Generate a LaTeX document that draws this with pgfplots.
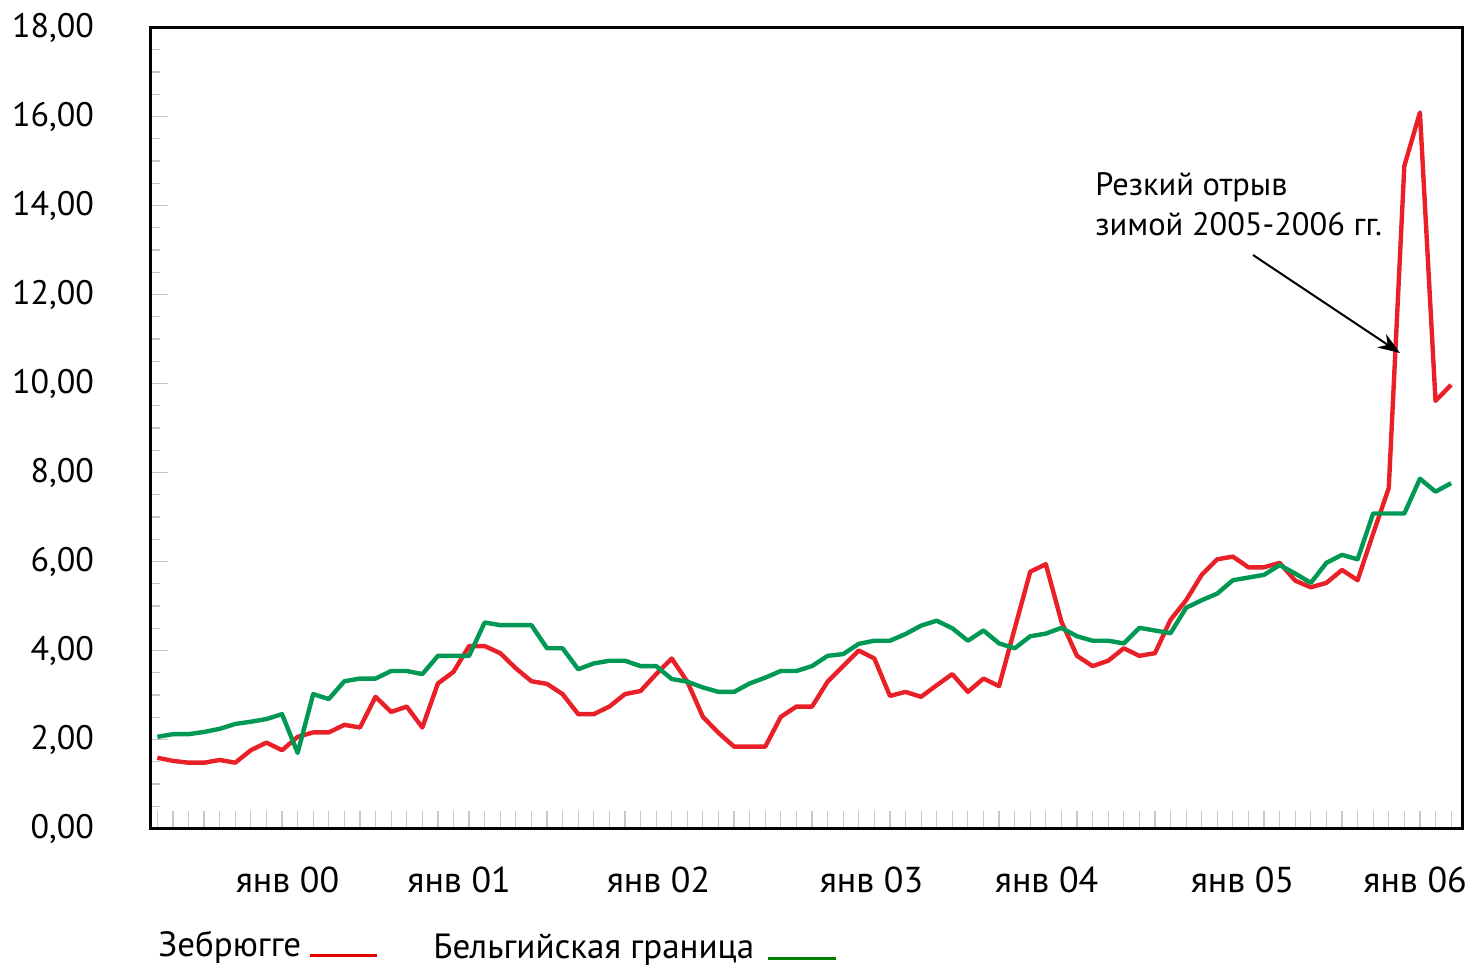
\documentclass[border=0pt]{standalone}
\usepackage{fontspec}
\setmainfont{PT Sans}
\usepackage{pgfplots}
\usepackage{pgfplotstable}
\pgfplotsset{compat=1.18}
\usetikzlibrary{arrows.meta}
\definecolor{pred}{RGB}{234,32,40}
\definecolor{pgreen}{RGB}{0,152,82}
\definecolor{legred}{RGB}{230,0,0}
\definecolor{leggreen}{RGB}{0,128,0}

\pgfplotstableread{
k v
0 1.59
1 1.52
2 1.48
3 1.48
4 1.54
5 1.48
6 1.76
7 1.93
8 1.76
9 2.06
10 2.16
11 2.16
12 2.33
13 2.27
14 2.96
15 2.62
16 2.74
17 2.27
18 3.26
19 3.52
20 4.10
21 4.10
22 3.94
23 3.60
24 3.31
25 3.25
26 3.02
27 2.57
28 2.57
29 2.74
30 3.02
31 3.09
32 3.47
33 3.82
34 3.30
35 2.51
36 2.15
37 1.84
38 1.84
39 1.84
40 2.51
41 2.74
42 2.74
43 3.30
44 3.65
45 4.00
46 3.82
47 2.98
48 3.07
49 2.96
50 3.22
51 3.47
52 3.07
53 3.37
54 3.20
55 4.49
56 5.77
57 5.94
58 4.65
59 3.88
60 3.65
61 3.77
62 4.05
63 3.88
64 3.94
65 4.69
66 5.13
67 5.70
68 6.05
69 6.11
70 5.87
71 5.87
72 5.97
73 5.57
74 5.42
75 5.52
76 5.81
77 5.58
78 6.63
79 7.65
80 14.89
81 16.09
82 9.61
83 9.97
}\zeebrugge

\pgfplotstableread{
k v
0 2.06
1 2.12
2 2.12
3 2.17
4 2.24
5 2.35
6 2.40
7 2.46
8 2.57
9 1.70
10 3.02
11 2.91
12 3.31
13 3.37
14 3.37
15 3.54
16 3.54
17 3.47
18 3.88
19 3.88
20 3.88
21 4.63
22 4.57
23 4.57
24 4.57
25 4.05
26 4.05
27 3.58
28 3.71
29 3.77
30 3.77
31 3.65
32 3.65
33 3.36
34 3.30
35 3.17
36 3.07
37 3.07
38 3.26
39 3.39
40 3.54
41 3.54
42 3.65
43 3.88
44 3.92
45 4.15
46 4.22
47 4.22
48 4.37
49 4.56
50 4.67
51 4.50
52 4.22
53 4.45
54 4.16
55 4.05
56 4.32
57 4.38
58 4.51
59 4.32
60 4.22
61 4.22
62 4.16
63 4.51
64 4.45
65 4.39
66 4.96
67 5.13
68 5.28
69 5.58
70 5.64
71 5.70
72 5.92
73 5.73
74 5.52
75 5.97
76 6.15
77 6.05
78 7.08
79 7.08
80 7.08
81 7.86
82 7.57
83 7.76
}\belgian

\begin{document}
\begin{tikzpicture}
\useasboundingbox (0,0) rectangle (735pt,-483pt);
\begin{axis}[
  at={(75pt,-414.25pt)}, anchor=south west,
  scale only axis, width=656pt, height=400.5pt,
  xmin=-0.47, xmax=83.7, ymin=0, ymax=18,
  axis line style={line width=1.5pt, black},
  tick pos=left, tick align=inside,
  ytick={0,2,...,18},
  yticklabels={{0,00},{2,00},{4,00},{6,00},{8,00},{10,00},{12,00},{14,00},{16,00},{18,00}},
  minor y tick num=3,
  xtick={0,...,83}, xticklabels={},
  extra x ticks={8.35,19.36,32.15,45.82,57.05,69.62,80.69},
  extra x tick labels={янв 00,янв 01,янв 02,янв 03,янв 04,янв 05,янв 06},
  extra x tick style={tick style={draw=none}, xticklabel style={anchor=base, yshift=-32pt, font=\fontsize{18}{21}\selectfont}},
  major tick length=9pt, minor tick length=5pt,
  tick style={black!22, line width=0.6pt},
  tick label style={font=\fontsize{17}{20}\selectfont},
  yticklabel style={anchor=east, xshift=-24.5pt},
]
\addplot[pred, line width=2.2pt, line join=round, mark=none] table[x=k, y=v] {\zeebrugge};
\addplot[pgreen, line width=2.2pt, line join=round, mark=none] table[x=k, y=v] {\belgian};
\end{axis}
\begin{scope}[every node/.style={inner sep=0pt, font=\fontsize{16.2}{19}\selectfont}]
\node[anchor=base west] at (547.5pt,-97.5pt) {Резкий отрыв};
\node[anchor=base west] at (547.5pt,-117.5pt) {зимой 2005-2006 гг.};
\draw[black, line width=1pt, -{Stealth[length=11pt,width=8pt]}] (626.5pt,-127.5pt) -- (700pt,-176.5pt);
\end{scope}
\begin{scope}[every node/.style={inner sep=0pt, font=\fontsize{17.5}{20}\selectfont}]
\node[anchor=base west] at (79pt,-478pt) {Зебрюгге};
\draw[legred, line width=1.5pt] (155pt,-477.5pt) -- (188.5pt,-477.5pt);
\node[anchor=base west] at (216.5pt,-479pt) {Бельгийская граница};
\draw[leggreen, line width=1.5pt] (384pt,-479pt) -- (418pt,-479pt);
\end{scope}
\end{tikzpicture}
\end{document}
